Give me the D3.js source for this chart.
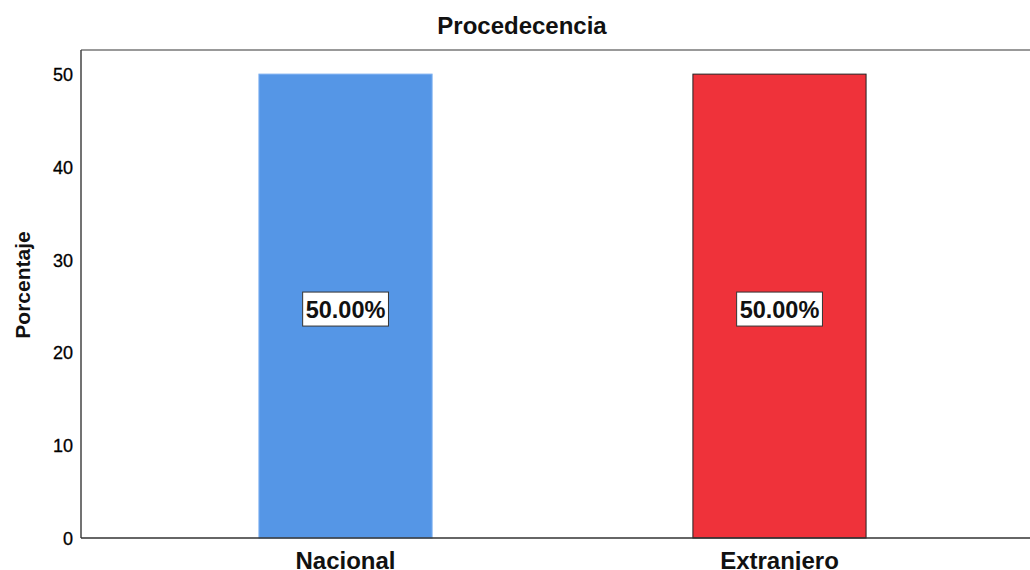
<!DOCTYPE html>
<html><head><meta charset="utf-8">
<script src="https://cdn.jsdelivr.net/npm/d3@7"></script>
<style>body{margin:0;background:#fff}svg{display:block;font-family:"Liberation Sans",Arial,sans-serif}</style>
</head><body>
<svg id="c" width="1030" height="570"></svg>
<script>
const categories = ["Nacional", "Extranjero"];
const values = [50, 50];
const labels = ["50.00%", "50.00%"];
const colors = ["#5596e6", "#ef323a"];
const strokes = ["#7aaef0", "#222222"];
const yTicks = [0, 10, 20, 30, 40, 50];

const svg = d3.select("#c");
const m = {l: 81, r: 1044, t: 50, b: 538};
const x = d3.scaleBand().domain(categories).range([m.l, m.r]).paddingInner(0.601).paddingOuter(0.41);
const y = d3.scaleLinear().domain([0, 52.6]).range([m.b, m.t]);

// frame
svg.append("line").attr("x1", m.l).attr("x2", 1030).attr("y1", m.t).attr("y2", m.t).attr("stroke", "#777").attr("stroke-width", 1.5);
svg.append("line").attr("x1", m.l).attr("x2", m.l).attr("y1", m.t).attr("y2", m.b).attr("stroke", "#444").attr("stroke-width", 1.5);

// bars
svg.selectAll("rect.bar").data(categories).join("rect").attr("class", "bar")
  .attr("x", d => x(d)).attr("width", x.bandwidth())
  .attr("y", (d, i) => y(values[i])).attr("height", (d, i) => y(0) - y(values[i]))
  .attr("fill", (d, i) => colors[i]).attr("stroke", (d, i) => strokes[i]).attr("stroke-width", 1);

svg.append("line").attr("x1", m.l).attr("x2", 1030).attr("y1", m.b).attr("y2", m.b).attr("stroke", "#333").attr("stroke-width", 1.5);

// y axis
const ya = svg.append("g").attr("transform", `translate(${m.l},0)`)
  .call(d3.axisLeft(y).tickValues(yTicks).tickSize(0).tickPadding(8));
ya.select(".domain").remove();
ya.selectAll("text").attr("font-size", 18).attr("font-family", "Liberation Sans, Arial, sans-serif").attr("fill", "#000").attr("stroke", "#000").attr("stroke-width", 0.3).attr("dy", "0.36em");

// x axis
const xa = svg.append("g").attr("transform", `translate(0,${m.b})`)
  .call(d3.axisBottom(x).tickSize(0).tickPadding(9));
xa.select(".domain").remove();
xa.selectAll("text").attr("font-size", 24).attr("font-weight", "bold").attr("font-family", "Liberation Sans, Arial, sans-serif").attr("fill", "#111").attr("dy", "0.9em");

// labels
categories.forEach((c, i) => {
  const cx = x(c) + x.bandwidth() / 2, cy = y(values[i] / 2) + 3;
  const g = svg.append("g");
  const r = g.append("rect");
  const t = g.append("text").attr("x", cx).attr("y", cy).attr("text-anchor", "middle").attr("dy", "0.36em")
    .attr("font-size", 23.5).attr("font-weight", "bold").attr("fill", "#111").text(labels[i]);
  const bb = t.node().getBBox();
  r.attr("x", bb.x - 3).attr("y", cy - 17).attr("width", bb.width + 6).attr("height", 34)
    .attr("fill", "#fff").attr("stroke", "#333").attr("stroke-width", 1);
});

// title
svg.append("text").attr("x", 522).attr("y", 34).attr("text-anchor", "middle")
  .attr("font-size", 24).attr("font-weight", "bold").attr("fill", "#111").text("Procedecencia");

// y title
svg.append("text").attr("transform", `translate(30,285) rotate(-90)`).attr("text-anchor", "middle")
  .attr("font-size", 21).attr("font-weight", "bold").attr("fill", "#111").text("Porcentaje");
</script>
</body></html>
